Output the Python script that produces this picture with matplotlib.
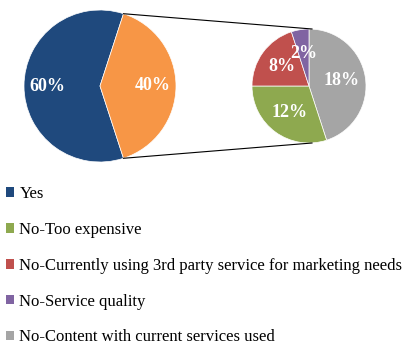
import matplotlib
matplotlib.use("Agg")
import matplotlib.pyplot as plt
import numpy as np

# Main split
main_labels = ["Yes", "No"]
main_values = [60, 40]
main_colors = ["#1F497D", "#F79646"]

# Breakdown of "No" answers
sub_labels = ["No-Content with current services used", "No-Too expensive",
              "No-Currently using 3rd party service for marketing needs",
              "No-Service quality"]
sub_values = [18, 12, 8, 2]
sub_colors = ["#A5A5A5", "#8EA94F", "#C0504D", "#8064A2"]

legend_order = ["Yes", "No-Too expensive",
                "No-Currently using 3rd party service for marketing needs",
                "No-Service quality", "No-Content with current services used"]

W, H = 414, 346
fig = plt.figure(figsize=(W / 100, H / 100), dpi=100)
ax = fig.add_axes([0, 0, 1, 1])

serif = "Liberation Serif"
lab_kw = dict(color="white", fontsize=13, fontweight="bold", family=serif,
              ha="center", va="center")

main_c, main_r = (100, 260), 76
sub_c, sub_r = (309, 260), 57

no_share = main_values[1] / sum(main_values) * 360
start = no_share / 2
w_main, t_main = ax.pie(main_values, colors=main_colors, startangle=start,
                        center=main_c, radius=main_r,
                        labels=[f"{v}%" for v in main_values],
                        labeldistance=0.69, textprops=lab_kw,
                        wedgeprops=dict(linewidth=0.5, edgecolor="white"),
                        frame=True)
w_sub, t_sub = ax.pie(sub_values, colors=sub_colors, startangle=90,
                      counterclock=False, center=sub_c, radius=sub_r,
                      labels=[f"{v}%" for v in sub_values],
                      labeldistance=0.58, textprops=lab_kw,
                      wedgeprops=dict(linewidth=0.5, edgecolor="white"),
                      frame=True)
ax.set_xlim(0, W)
ax.set_ylim(0, H)
ax.axis("off")

# connector lines from the "No" wedge edges to the breakdown pie
for sgn in (1, -1):
    a = np.deg2rad(sgn * start)
    x0 = main_c[0] + main_r * np.cos(a)
    y0 = main_c[1] + main_r * np.sin(a)
    ax.plot([x0, sub_c[0] + 3], [y0, sub_c[1] + sgn * sub_r], color="black", lw=0.8)

handles = {l: w for l, w in zip(["Yes"], w_main[:1])}
handles.update({l: w for l, w in zip(sub_labels, w_sub)})
leg = fig.legend([handles[l] for l in legend_order], legend_order,
                 loc="upper left", bbox_to_anchor=(6 / W, 1 - 186 / H),
                 frameon=False, prop=dict(family=serif, size=12.0),
                 handlelength=0.5, handleheight=0.5, handletextpad=0.3,
                 labelspacing=1.19, borderpad=0, borderaxespad=0)
for h in leg.legend_handles:
    h.set_edgecolor("none")

fig.savefig("out.png", dpi=100)
